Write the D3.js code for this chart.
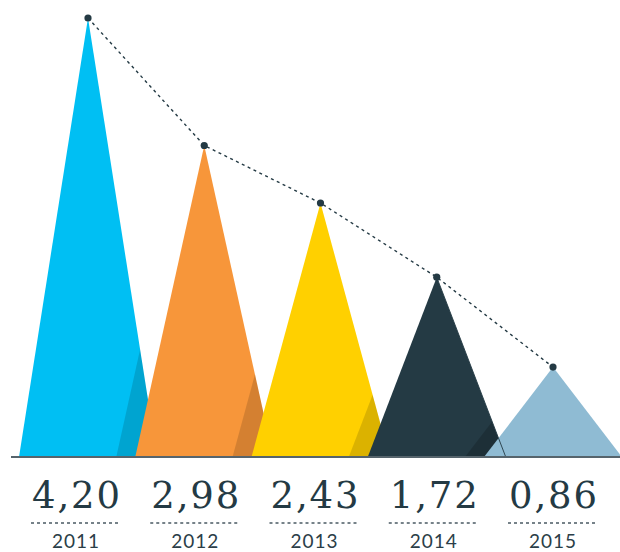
<!DOCTYPE html>
<html>
<head>
<meta charset="utf-8">
<script src="https://cdn.jsdelivr.net/npm/d3@7"></script>
<style>
  body { margin: 0; background: #fff; }
  .val { font-family: "DejaVu Serif", serif; }
  .year { font-family: Lato, sans-serif; }
</style>
</head>
<body>
<div id="chart"></div>
<script>
// data
var years = ["2011", "2012", "2013", "2014", "2015"];
var values = [4.20, 2.98, 2.43, 1.72, 0.86];
var colors = ["#00bff3", "#f7963a", "#ffd000", "#243a44", "#8fbbd3"];

var width = 620, height = 552;
var base = 457;
var half = 69;     // half width of triangle base
var shift = 19;    // offset of the shade

var svg = d3.select("#chart").append("svg")
    .attr("width", width)
    .attr("height", height);

var y = d3.scaleLinear().domain([0, 4.2]).range([base, 18]);
var x = d3.scalePoint().domain(years).range([88, 553]);
var xl = d3.scalePoint().domain(years).range([76, 553]);

var data = years.map(function(d, i) { return {year: d, value: values[i], color: colors[i]}; });

function tri(d, dx) {
  dx = dx || 0;
  var cx = x(d.year) + dx;
  return "M" + (cx - half) + "," + base + "L" + cx + "," + y(d.value) + "L" + (cx + half) + "," + base + "Z";
}

var defs = svg.append("defs");
data.forEach(function(d, i) {
  defs.append("clipPath").attr("id", "clip" + i)
    .append("path").attr("d", tri(d));
});

var g = svg.append("g");
data.forEach(function(d, i) {
  g.append("path")
    .attr("d", tri(d))
    .attr("fill", d.color);
  if (i < data.length - 1) {
    g.append("path")
      .attr("d", tri(data[i + 1], -shift))
      .attr("fill", "#000")
      .attr("opacity", i == 3 ? 0.18 : 0.14)
      .attr("clip-path", "url(#clip" + i + ")");
  }
});

// thin edge of 2014 showing through 2015
var d4 = data[3];
svg.append("line")
  .attr("x1", x(d4.year)).attr("y1", y(d4.value))
  .attr("x2", x(d4.year) + half).attr("y2", base)
  .attr("stroke", "#243a44")
  .attr("stroke-width", 0.9);

// baseline
svg.append("line")
  .attr("x1", 11).attr("x2", width)
  .attr("y1", base).attr("y2", base)
  .attr("stroke", "#56646c")
  .attr("stroke-width", 2);

// dotted trend line
svg.append("path")
  .datum(data)
  .attr("fill", "none")
  .attr("stroke", "#243a44")
  .attr("stroke-width", 1.4)
  .attr("stroke-dasharray", "3,3.5")
  .attr("d", d3.line()
    .x(function(d) { return x(d.year); })
    .y(function(d) { return y(d.value); }));

svg.selectAll("circle.dot")
  .data(data)
  .enter().append("circle")
  .attr("class", "dot")
  .attr("cx", function(d) { return x(d.year); })
  .attr("cy", function(d) { return y(d.value); })
  .attr("r", 3.6)
  .attr("fill", "#243a44");

// labels
var lab = svg.selectAll("g.lab")
  .data(data)
  .enter().append("g")
  .attr("class", "lab")
  .attr("transform", function(d) { return "translate(" + xl(d.year) + ",0)"; });

lab.append("text")
  .attr("class", "val")
  .attr("text-anchor", "middle")
  .attr("y", 508)
  .attr("font-size", 37)
  .attr("fill", "#243a44")
  .attr("textLength", 88)
  .attr("lengthAdjust", "spacing")
  .text(function(d) { return d3.format(".2f")(d.value).replace(".", ","); });

lab.append("line")
  .attr("x1", -45).attr("x2", 45)
  .attr("y1", 523).attr("y2", 523)
  .attr("stroke", "#4a5a63")
  .attr("stroke-width", 1.5)
  .attr("stroke-dasharray", "3,3");

lab.append("text")
  .attr("class", "year")
  .attr("text-anchor", "middle")
  .attr("y", 548)
  .attr("font-size", 19)
  .attr("letter-spacing", 1)
  .attr("fill", "#2b3e48")
  .text(function(d) { return d.year; });
</script>
</body>
</html>
